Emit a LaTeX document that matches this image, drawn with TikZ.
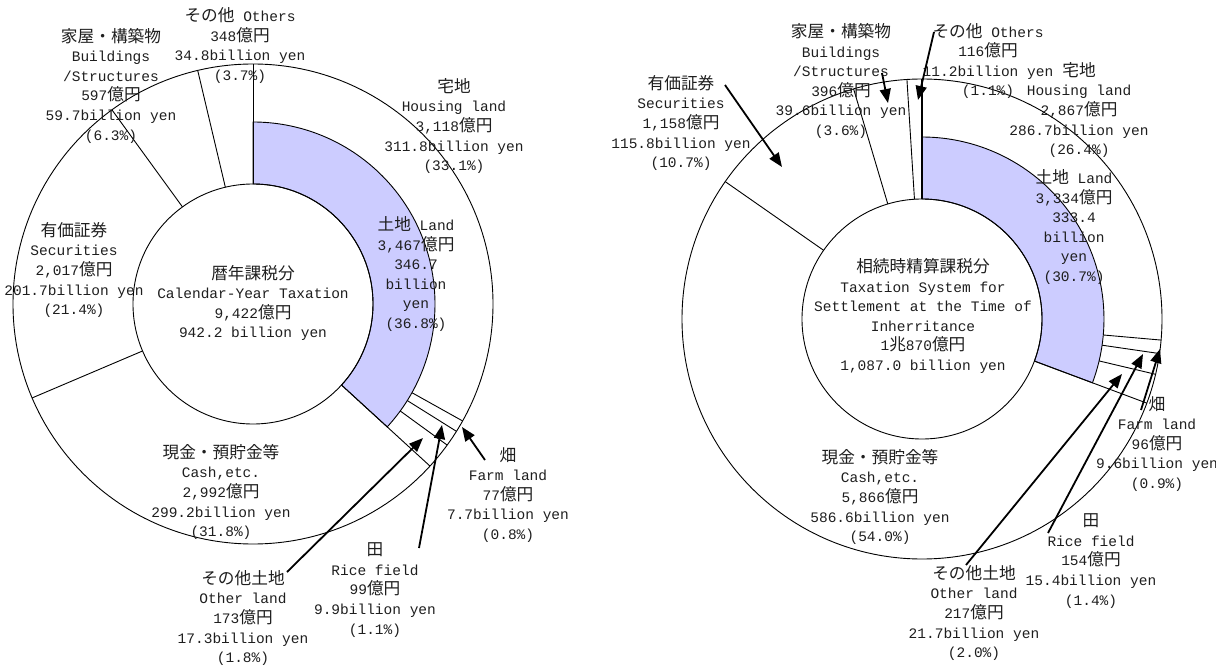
\documentclass[tikz,border=0pt]{standalone}
\usepackage{fontspec}
\setmainfont{Liberation Mono}
\newfontfamily\jpfont[Scale=1.15]{Noto Sans CJK JP}
\newcommand{\jtxt}[1]{{\jpfont #1}}
\usepackage{xcolor}
\usetikzlibrary{arrows.meta}

\definecolor{landblue}{RGB}{204,204,255}
\definecolor{labeltext}{RGB}{30,30,30}

\begin{document}
\begin{tikzpicture}[
        x=1pt, y=1pt,
        ring/.style={draw=black, line width=0.9pt},
        divider/.style={draw=black, line width=0.9pt},
        lbl/.style={align=center, inner sep=0pt, text=labeltext,
                    font=\fontsize{14.5}{19.6}\selectfont},
        arrow/.style={-{Triangle[length=14pt, width=11pt]}, line width=1.8pt}
      ]

      \useasboundingbox (0,0) rectangle (1216,-666);

      % --- Left chart: calendar-year taxation ---
      \begin{scope}[shift={(253,-304)}]
        \filldraw[ring, fill=landblue] (90:120) arc[start angle=90, end angle=-42.48, radius=120]
          -- (-42.48:182) arc[start angle=-42.48, end angle=90, radius=182] -- cycle;
        \draw[ring] (0,0) circle[radius=240];
        \draw[ring] (0,0) circle[radius=120];
        \foreach \a in {90,-42.48,203.04,126,103.32}
          \draw[divider] (\a:120) -- (\a:240);
        \foreach \a in {-29.16,-32.04,-36}
          \draw[divider] (\a:182) -- (\a:240);
      \end{scope}

      % --- Right chart: settlement at the time of inheritance ---
      \begin{scope}[shift={(922,-319)}]
        \filldraw[ring, fill=landblue] (90:120) arc[start angle=90, end angle=-20.52, radius=120]
          -- (-20.52:182) arc[start angle=-20.52, end angle=90, radius=182] -- cycle;
        \draw[ring] (0,0) circle[radius=240];
        \draw[ring] (0,0) circle[radius=120];
        \foreach \a in {-20.52,145.08,106.56,93.6}
          \draw[divider] (\a:120) -- (\a:240);
        \draw[divider, line width=1.6pt] (90:120) -- (90:240); % two borders meet here
        \foreach \a in {-5.04,-8.28,-13.32}
          \draw[divider] (\a:182) -- (\a:240);
      \end{scope}

      % Left labels
      \node (othersL) [lbl] at (240,-45.5) {\jtxt{その他} Others\\348\jtxt{億円}\\34.8billion yen\\(3.7\%)};
      \node (bldgL) [lbl] at (111,-85.5) {\jtxt{家屋・構築物}\\Buildings\\/Structures\\597\jtxt{億円}\\59.7billion yen\\(6.3\%)};
      \node (housingL) [lbl] at (454,-126) {\jtxt{宅地}\\Housing land\\3,118\jtxt{億円}\\311.8billion yen\\(33.1\%)};
      \node (landL) [lbl] at (416,-274) {\jtxt{土地} Land\\3,467\jtxt{億円}\\346.7\\billion\\yen\\(36.8\%)};
      \node (secL) [lbl] at (74,-270) {\jtxt{有価証券}\\Securities\\2,017\jtxt{億円}\\201.7billion yen\\(21.4\%)};
      \node (totalL) [lbl] at (253,-303) {\jtxt{暦年課税分}\\Calendar-Year Taxation\\9,422\jtxt{億円}\\942.2 billion yen};
      \node (cashL) [lbl] at (221,-492) {\jtxt{現金・預貯金等}\\Cash,etc.\\2,992\jtxt{億円}\\299.2billion yen\\(31.8\%)};
      \node (otherlandL) [lbl] at (243,-618) {\jtxt{その他土地}\\Other land\\173\jtxt{億円}\\17.3billion yen\\(1.8\%)};
      \node (riceL) [lbl] at (375,-590) {\jtxt{田}\\Rice field\\99\jtxt{億円}\\9.9billion yen\\(1.1\%)};
      \node (farmL) [lbl] at (508,-495) {\jtxt{畑}\\Farm land\\77\jtxt{億円}\\7.7billion yen\\(0.8\%)};

      % Right labels
      \node (bldgR) [lbl] at (841,-81) {\jtxt{家屋・構築物}\\Buildings\\/Structures\\396\jtxt{億円}\\39.6billion yen\\(3.6\%)};
      \node (othersR) [lbl] at (988,-61) {\jtxt{その他} Others\\116\jtxt{億円}\\11.2billion yen\\(1.1\%)};
      \node (housingR) [lbl] at (1079,-110) {\jtxt{宅地}\\Housing land\\2,867\jtxt{億円}\\286.7billion yen\\(26.4\%)};
      \node (secR) [lbl] at (681,-123) {\jtxt{有価証券}\\Securities\\1,158\jtxt{億円}\\115.8billion yen\\(10.7\%)};
      \node (landR) [lbl] at (1074,-227) {\jtxt{土地} Land\\3,334\jtxt{億円}\\333.4\\billion\\yen\\(30.7\%)};
      \node (totalR) [lbl] at (923,-316) {\jtxt{相続時精算課税分}\\Taxation System for\\Settlement at the Time of\\Inherritance\\1\jtxt{兆}870\jtxt{億円}\\1,087.0 billion yen};
      \node (cashR) [lbl] at (880,-497) {\jtxt{現金・預貯金等}\\Cash,etc.\\5,866\jtxt{億円}\\586.6billion yen\\(54.0\%)};
      \node (farmR) [lbl] at (1157,-444) {\jtxt{畑}\\Farm land\\96\jtxt{億円}\\9.6billion yen\\(0.9\%)};
      \node (riceR) [lbl] at (1091,-561) {\jtxt{田}\\Rice field\\154\jtxt{億円}\\15.4billion yen\\(1.4\%)};
      \node (otherlandR) [lbl] at (974,-613) {\jtxt{その他土地}\\Other land\\217\jtxt{億円}\\21.7billion yen\\(2.0\%)};

      % Arrow ends
      \coordinate (farmL-from) at (485,-460);
      \coordinate (farmL-to) at (462,-427);
      \coordinate (riceL-from) at (419,-548);
      \coordinate (riceL-to) at (442,-425);
      \coordinate (otherlandL-from) at (287,-572);
      \coordinate (otherlandL-to) at (423,-438);
      \coordinate (secR-from) at (725,-85);
      \coordinate (secR-to) at (782,-167);
      \coordinate (bldgR-from) at (882,-73);
      \coordinate (bldgR-to) at (888,-103);
      \coordinate (othersR-from) at (934,-32);
      \coordinate (othersR-to) at (918,-100);
      \coordinate (farmR-from) at (1141,-410);
      \coordinate (farmR-to) at (1160,-349);
      \coordinate (riceR-from) at (1048,-533);
      \coordinate (riceR-to) at (1143,-354);
      \coordinate (otherlandR-from) at (966,-565);
      \coordinate (otherlandR-to) at (1122,-374);

      % Arrows
      \draw [arrow] (farmL-from) -- (farmL-to);
      \draw [arrow] (riceL-from) -- (riceL-to);
      \draw [arrow] (otherlandL-from) -- (otherlandL-to);
      \draw [arrow] (secR-from) -- (secR-to);
      \draw [arrow] (bldgR-from) -- (bldgR-to);
      \draw [arrow] (othersR-from) -- (othersR-to);
      \draw [arrow] (farmR-from) -- (farmR-to);
      \draw [arrow] (riceR-from) -- (riceR-to);
      \draw [arrow] (otherlandR-from) -- (otherlandR-to);

    \end{tikzpicture}
\end{document}
